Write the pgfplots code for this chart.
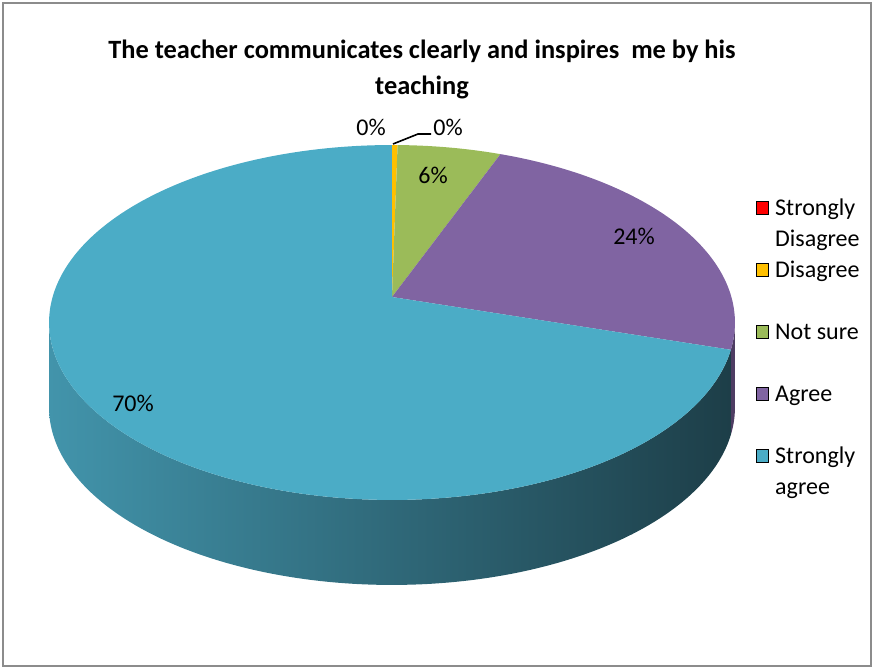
\documentclass[border=0pt]{standalone}
\usepackage{pgfplots}
\pgfplotsset{compat=1.18}
\usepackage{pgfplotstable}
\usepackage{fontspec}
\setmainfont{Carlito}
\definecolor{cRed}{HTML}{FF0000}
\definecolor{cYellow}{HTML}{FFC000}
\definecolor{cGreen}{HTML}{9BBB59}
\definecolor{cPurple}{HTML}{8064A2}
\definecolor{cBlue}{HTML}{4BACC6}
\definecolor{cPurpleSide}{HTML}{4E3D63}
\definecolor{sideL}{RGB}{66,148,171}
\definecolor{sideM}{RGB}{42,100,117}
\definecolor{sideR}{RGB}{29,62,72}
\definecolor{frameGray}{RGB}{140,140,140}

\pgfplotstableread{
cat value
SD 0
D 0.3
NS 5.6
A 23.8
SA 70.3
}\piedata

\begin{document}
\begin{tikzpicture}
\pgfplotstablegetelem{0}{value}\of\piedata\let\vSD\pgfplotsretval
\pgfplotstablegetelem{1}{value}\of\piedata\let\vD\pgfplotsretval
\pgfplotstablegetelem{2}{value}\of\piedata\let\vNS\pgfplotsretval
\pgfplotstablegetelem{3}{value}\of\piedata\let\vA\pgfplotsretval
\pgfplotstablegetelem{4}{value}\of\piedata\let\vSA\pgfplotsretval
\pgfmathsetmacro{\cA}{3.6*\vSD}
\pgfmathsetmacro{\cB}{\cA+3.6*\vD}
\pgfmathsetmacro{\cC}{\cB+3.6*\vNS}
\pgfmathsetmacro{\cD}{\cC+3.6*\vA}
\pgfmathsetmacro{\cE}{\cD+3.6*\vSA}
\pgfmathsetmacro{\visL}{acos(-0.1436)}
\pgfmathsetmacro{\visR}{360-\visL}
\begin{axis}[
  hide axis, scale only axis, width=436.5pt, height=334pt,
  xmin=0, xmax=873, ymin=0, ymax=668, y dir=reverse, clip=false,
  declare function={
    px(\a)=392+339.4*sin(\a)/(1+0.1436*cos(\a));
    py(\a)=297-173.8*cos(\a)/(1+0.1436*cos(\a));
    sth(\t,\a,\b)=(\t<=1)*(\a+\t*(\b-\a))+(\t>1)*(\b-(\t-1)*(\b-\a));
    sdy(\t)=(\t>1)*85;
  },
  legend cell align=left,
  legend style={at={(axis cs:756,195.5)}, anchor=north west, draw=none, fill=none,
    inner sep=0pt, row sep=0pt, column sep=3pt,
    font=\fontsize{12}{14}\selectfont,
    cells={anchor=base west},
    nodes={inner sep=0pt, text height=10pt, text depth=5.5pt}},
  legend image code/.code={\fill[#1] (0pt,0.7pt) rectangle (6pt,7.2pt);},
]
\path (axis cs:0,0) rectangle (axis cs:873,668);
% sides
\addplot[draw=none, fill=cPurpleSide, domain=0:2, samples=201, variable=\t, forget plot]
  ({px(sth(\t,\visL,\cD))},{py(sth(\t,\visL,\cD))+sdy(\t)}) -- cycle;
\addplot[draw=none, left color=sideL, middle color=sideM, right color=sideR, domain=0:2, samples=401, variable=\t, forget plot]
  ({px(sth(\t,\cD,\visR))},{py(sth(\t,\cD,\visR))+sdy(\t)}) -- cycle;
% top faces
\addplot[fill=cYellow, draw=none, domain=\cA:\cB, samples=5, variable=\t, forget plot]
  ({px(\t)},{py(\t)}) -- (axis cs:392,297) -- cycle;
\addplot[fill=cGreen, draw=none, domain=\cB:\cC, samples=40, variable=\t, forget plot]
  ({px(\t)},{py(\t)}) -- (axis cs:392,297) -- cycle;
\addplot[fill=cPurple, draw=none, domain=\cC:\cD, samples=120, variable=\t, forget plot]
  ({px(\t)},{py(\t)}) -- (axis cs:392,297) -- cycle;
\addplot[fill=cBlue, draw=none, domain=\cD:\cE, samples=300, variable=\t, forget plot]
  ({px(\t)},{py(\t)}) -- (axis cs:392,297) -- cycle;
% legend
\addlegendimage{fill=cRed}\addlegendentry{Strongly}
\addlegendimage{empty legend}\addlegendentry{Disagree}
\addlegendimage{fill=cYellow}\addlegendentry{Disagree}
\addlegendimage{empty legend}\addlegendentry{}
\addlegendimage{fill=cGreen}\addlegendentry{Not sure}
\addlegendimage{empty legend}\addlegendentry{}
\addlegendimage{fill=cPurple}\addlegendentry{Agree}
\addlegendimage{empty legend}\addlegendentry{}
\addlegendimage{fill=cBlue}\addlegendentry{Strongly}
\addlegendimage{empty legend}\addlegendentry{agree}
% labels
\begin{scope}[every node/.style={font=\fontsize{12}{14}\selectfont, inner sep=0pt}]
\node at (axis cs:371,127) {0\%};
\node at (axis cs:448,127) {0\%};
\node at (axis cs:433,175) {6\%};
\node at (axis cs:634,236) {24\%};
\node at (axis cs:133,403) {70\%};
\end{scope}
\draw[black, line width=0.8pt] (axis cs:393,144) -- (axis cs:418,134) -- (axis cs:431,134);
\node[font=\bfseries\fontsize{13.2}{18}\selectfont, align=center] at (axis cs:422,69)
  {The teacher communicates clearly and inspires\ \ me by his\\teaching};
\draw[frameGray, line width=1.1pt] (axis cs:3,3) rectangle (axis cs:871,666);
\end{axis}
\end{tikzpicture}
\end{document}
